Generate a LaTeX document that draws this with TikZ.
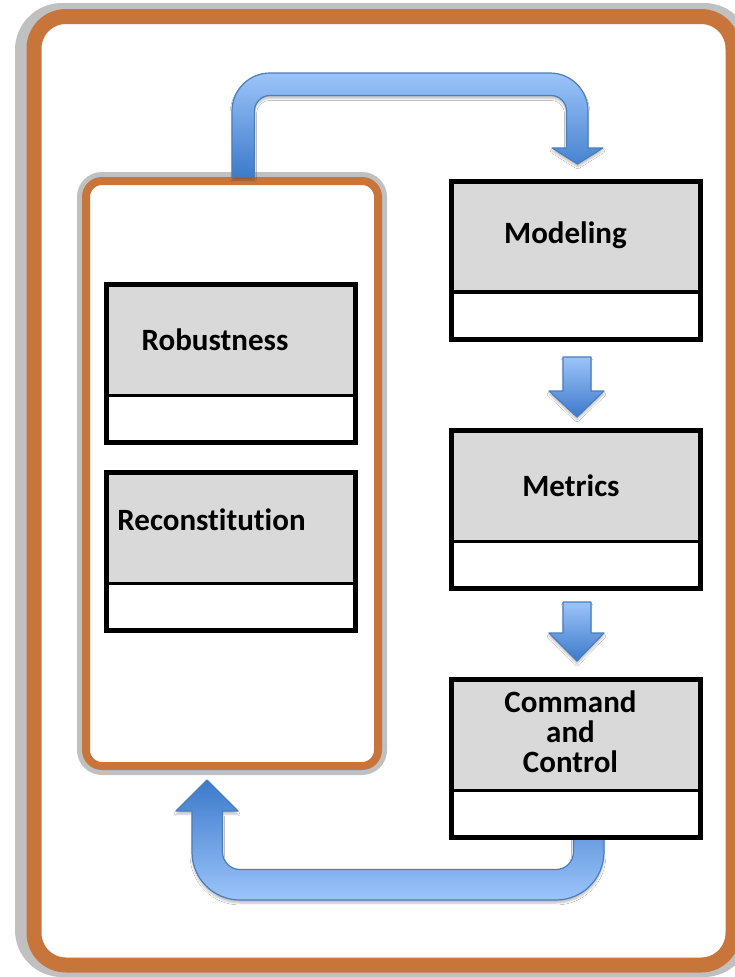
\documentclass[tikz,border=0pt]{standalone}
\usepackage{fontspec}
\setmainfont[Ligatures=NoCommon]{Carlito}
\usetikzlibrary{shadows.blur}

\definecolor{frameorange}{RGB}{200,117,60}
\definecolor{haze}{RGB}{192,192,192}
\definecolor{cellgray}{RGB}{217,217,217}
\definecolor{flowlight}{RGB}{156,196,250}
\definecolor{flowdark}{RGB}{60,122,202}
\definecolor{flowedge}{RGB}{74,126,187}

\tikzset{
  cellhead/.style={rectangle, inner sep=0pt, outer sep=0pt, draw=none, fill=cellgray,
    minimum width=249pt, minimum height=111pt, anchor=north west},
  cellframe/.style={rectangle, inner sep=0pt, outer sep=0pt, draw=black, line width=5pt,
    minimum width=249pt, minimum height=158pt, anchor=north west},
  divider/.style={draw=black, line width=3.5pt},
  celltext/.style={font=\fontsize{31}{30}\selectfont\bfseries, inner sep=0pt, anchor=base, align=center},
  flow/.style={draw=flowedge, line width=1.2pt, line join=round,
    blur shadow={shadow xshift=0pt, shadow yshift=-3pt, shadow blur steps=6, shadow opacity=25}},
}

\begin{document}
\begin{tikzpicture}[x=1pt, y=-1pt]
  \useasboundingbox (0,0) rectangle (735,977);
  \fill[white] (0,0) rectangle (735,977);

  % outer frame with its soft grey rim
  \draw[haze, line width=18pt, rounded corners=38pt] (24,12) rectangle (742,968);
  \draw[frameorange, fill=white, line width=15pt, rounded corners=32pt] (34,16.5) rectangle (733,965);

  % container holding the two resilience blocks
  \draw[haze, line width=14pt, rounded corners=18pt] (84,179) rectangle (380,768);
  \draw[frameorange, fill=white, line width=8pt, rounded corners=16pt] (86,181) rectangle (378,766);

  % bent arrow: container -> Modeling
  \path[flow, top color=flowlight, bottom color=flowdark]
    (232,177) -- (232,111) arc (180:270:38) -- (550,73) arc (270:360:38)
    -- (588,148) -- (603,148) -- (577.5,164) -- (552,148) -- (566.5,148)
    -- (566.5,111) arc (0:-90:15.5) -- (270,95.5) arc (270:180:15.5)
    -- (254.5,177) -- cycle;

  % return arrow: Command and Control -> container
  \path[flow, top color=flowdark, bottom color=flowlight]
    (573.5,836) -- (604,836) -- (604,852) arc (0:90:48) -- (240,900) arc (90:180:48)
    -- (192,811) -- (176,811) -- (207,780) -- (238,811) -- (222.5,811)
    -- (222.5,852) arc (180:90:17.5) -- (556,869.5) arc (90:0:17.5)
    -- (573.5,836) -- cycle;

  % stacked blocks: grey title cell, white lower cell, black frame
  \foreach \nm/\px/\py in {rob/106/284.5, rec/106/472.5, mod/451/181, met/451/430.5, cnc/451/679.5} {
    \node[cellhead] (\nm-head) at (\px,\py) {};
    \draw[divider] (\nm-head.south west) -- (\nm-head.south east);
    \node[cellframe] (\nm) at (\px,\py) {};
  }

  \node[celltext] (robT) at (215,350) {Robustness};
  \node[celltext] (recT) at (211.5,530) {Reconstitution};
  \node[celltext] (modT) at (565.5,243) {Modeling};
  \node[celltext] (metT) at (571,496) {Metrics};
  \node[celltext] (cncT) at (570.5,772) {Command\\and\\Control};

  % short arrows between the right-hand blocks
  \path[flow, top color=flowlight, bottom color=flowdark]
    (563,357) -- (591,357) -- (591,391) -- (604,391) -- (577,417) -- (549,391) -- (563,391) -- cycle;
  \path[flow, top color=flowlight, bottom color=flowdark]
    (563,602) -- (591,602) -- (591,633) -- (604,633) -- (577,661) -- (549,633) -- (563,633) -- cycle;
\end{tikzpicture}
\end{document}
